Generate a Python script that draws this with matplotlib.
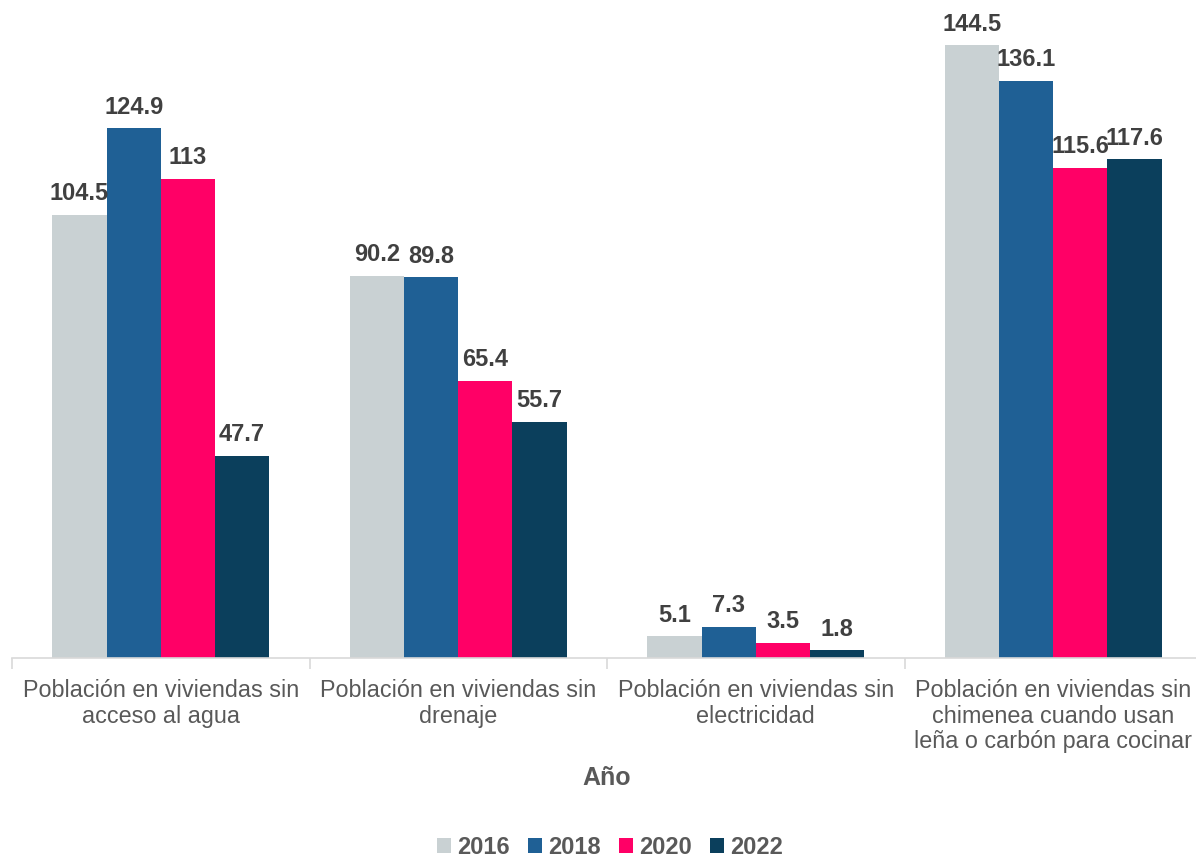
import matplotlib
matplotlib.use('Agg')
import matplotlib.pyplot as plt
import numpy as np

plt.rcParams['font.family'] = ['Liberation Sans', 'DejaVu Sans']

categories = [
    "Población en viviendas sin\nacceso al agua",
    "Población en viviendas sin\ndrenaje",
    "Población en viviendas sin\nelectricidad",
    "Población en viviendas sin\nchimenea cuando usan\nleña o carbón para cocinar",
]
years = ["2016", "2018", "2020", "2022"]
v2016 = [104.5, 90.2, 5.1, 144.5]
v2018 = [124.9, 89.8, 7.3, 136.1]
v2020 = [113, 65.4, 3.5, 115.6]
v2022 = [47.7, 55.7, 1.8, 117.6]
series = [v2016, v2018, v2020, v2022]
colors = ["#c9d1d3", "#1f6095", "#ff0066", "#0b3f5c"]

W, H = 1196, 858
fig = plt.figure(figsize=(W / 100, H / 100), dpi=100)
ax = fig.add_axes([12 / W, 200 / H, 1190 / W, 658 / H])

x = np.arange(len(categories))
bw = 0.182
for i, (vals, c, yr) in enumerate(zip(series, colors, years)):
    pos = x + (i - 1.5) * bw
    ax.bar(pos, vals, width=bw, color=c, label=yr)
    for xp, v in zip(pos, vals):
        ax.annotate(f"{v:g}", (xp, v), xytext=(0, 7), textcoords='offset points',
                    ha='center', va='bottom', fontsize=17, fontweight='bold',
                    color='#404040')

ax.set_xlim(-0.5, 3.5)
ax.set_ylim(0, 155.2)
ax.set_yticks([])
for s in ['top', 'right', 'left']:
    ax.spines[s].set_visible(False)
ax.spines['bottom'].set_color('#d9d9d9')
ax.spines['bottom'].set_linewidth(1.2)

ax.set_xticks(x)
ax.set_xticklabels(categories, fontsize=16.8, color='#595959', linespacing=1.15)
ax.tick_params(axis='x', which='major', length=0, pad=15)
ax.set_xticks(np.arange(-0.5, 4, 1), minor=True)
ax.tick_params(axis='x', which='minor', length=8, color='#d9d9d9', width=1.2)

fig.text(607 / W, 1 - 778 / H, "Año", ha='center', va='center',
         fontsize=18, fontweight='bold', color='#595959')

fig.legend(loc='center', bbox_to_anchor=(610 / W, 1 - 847 / H), ncol=4,
           frameon=False, handlelength=0.58, handleheight=0.58, handletextpad=0.25,
           columnspacing=0.8, prop={'size': 17, 'weight': 'bold'},
           labelcolor='#595959')

fig.savefig('out.png', dpi=100)
